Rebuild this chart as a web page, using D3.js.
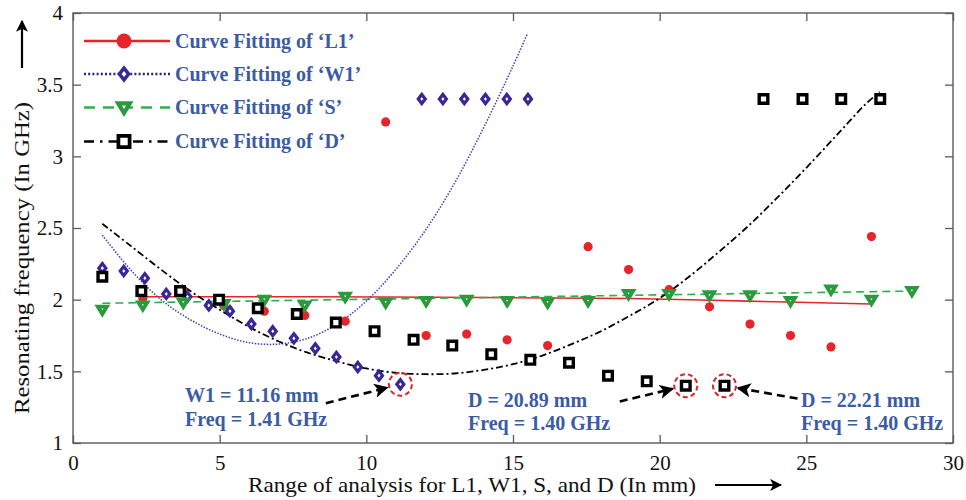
<!DOCTYPE html>
<html>
<head>
<meta charset="utf-8">
<script src="https://cdn.jsdelivr.net/npm/d3@7"></script>
<style>
  html, body { margin: 0; padding: 0; background: #fff; }
  svg { display: block; }
</style>
</head>
<body>
<div id="chart"></div>
<script>
// Resonating frequency vs parameter sweep (L1, W1, S, D) with curve fits.
// Values.

const X_TICKS = [0, 5, 10, 15, 20, 25, 30];
const Y_TICKS = [1, 1.5, 2, 2.5, 3, 3.5, 4];

const L1_X = [2.38, 3.76, 5.14, 6.52, 7.90, 9.28, 10.66, 12.04, 13.42, 14.80, 16.18, 17.56, 18.94, 20.32, 21.70, 23.08, 24.46, 25.84, 27.22];
const L1_Y = [2.01, 2.06, 1.96, 1.92, 1.89, 1.85, 3.24, 1.75, 1.76, 1.72, 1.68, 2.37, 2.21, 2.07, 1.95, 1.83, 1.75, 1.67, 2.44];

const W1_X = [1.00, 1.73, 2.45, 3.18, 3.90, 4.63, 5.35, 6.08, 6.81, 7.53, 8.26, 8.98, 9.71, 10.43, 11.16, 11.89, 12.61, 13.34, 14.06, 14.79, 15.51];
const W1_Y = [2.22, 2.20, 2.15, 2.04, 2.02, 1.96, 1.92, 1.83, 1.78, 1.73, 1.66, 1.60, 1.53, 1.47, 1.41, 3.40, 3.40, 3.40, 3.40, 3.40, 3.40];

const S_X = [1.00, 2.38, 3.76, 5.14, 6.52, 7.90, 9.28, 10.66, 12.04, 13.42, 14.80, 16.18, 17.56, 18.94, 20.32, 21.70, 23.08, 24.46, 25.84, 27.22, 28.60];
const S_Y = [1.93, 1.96, 1.98, 1.97, 2.00, 1.96, 2.02, 1.98, 1.99, 2.00, 1.99, 1.98, 1.99, 2.04, 2.04, 2.03, 2.03, 1.99, 2.07, 2.00, 2.06];

const D_X = [1.00, 2.33, 3.65, 4.98, 6.30, 7.63, 8.96, 10.28, 11.61, 12.93, 14.26, 15.59, 16.91, 18.24, 19.56, 20.89, 22.21, 23.54, 24.87, 26.19, 27.52];
const D_Y = [2.16, 2.06, 2.06, 2.00, 1.94, 1.90, 1.84, 1.78, 1.72, 1.68, 1.62, 1.58, 1.56, 1.47, 1.43, 1.40, 1.40, 3.40, 3.40, 3.40, 3.40];

// fitted curves
const L1_FIT_X = [2.38, 8, 14, 19, 23, 27.22];
const L1_FIT_Y = [2.02, 2.02, 2.015, 2.008, 1.99, 1.97];

const W1_FIT_X = [1, 2, 3, 4, 5, 6, 7, 8, 9, 10, 11, 12, 13, 14, 15, 15.5];
const W1_FIT_Y = [2.45, 2.20, 2.00, 1.86, 1.76, 1.70, 1.69, 1.73, 1.83, 1.99, 2.21, 2.48, 2.81, 3.20, 3.63, 3.86];

const S_FIT_X = [1, 28.6];
const S_FIT_Y = [1.975, 2.06];

const D_FIT_X = [1, 2, 3, 4, 5, 6, 7, 8, 9, 10, 11, 12, 13, 14, 15, 16, 17, 18, 19, 20, 21, 22, 23, 24, 25, 26, 27, 27.5];
const D_FIT_Y = [2.53, 2.37, 2.21, 2.06, 1.93, 1.81, 1.71, 1.63, 1.57, 1.52, 1.49, 1.48, 1.485, 1.51, 1.55, 1.61, 1.69, 1.78, 1.89, 2.01, 2.16, 2.33, 2.51, 2.71, 2.92, 3.14, 3.36, 3.45];

const LEGEND_LABELS = ["Curve Fitting of \u2018L1\u2019", "Curve Fitting of \u2018W1\u2019", "Curve Fitting of \u2018S\u2019", "Curve Fitting of \u2018D\u2019"];

const ResonanceChart = (() => {

  const W = 966, H = 500;
  const SERIF = "'Liberation Serif', 'Times New Roman', serif";
  const NOTE_BLUE = "#3b5ba3";

  const COL = {
    red:    "#e8242b",
    purple: "#3a2796",
    dotted: "#4040b4",
    green:  "#2a9a3c",
    gline:  "#2fae4c",
    black:  "#000",
  };

  const zip = (xs, ys) => xs.map((x, i) => [x, ys[i]]);

  function markerPath(kind, s) {
    if (kind === "diamond") return `M0,${-s * 1.3}L${s},0L0,${s * 1.3}L${-s},0Z`;
    if (kind === "square")  return `M${-s},${-s}H${s}V${s}H${-s}Z`;
    if (kind === "tri")     return `M${-s * 1.15},${-s * 0.8}H${s * 1.15}L0,${s * 1.1}Z`;
    return null;
  }

  function drawMarker(g, kind, cx, cy, big) {
    const k = big ? 1.3 : 1;
    if (kind === "circle") {
      g.append("circle")
        .attr("cx", cx).attr("cy", cy)
        .attr("r", 4.6 * k)
        .attr("fill", COL.red);
      return;
    }
    const spec = {
      diamond: { s: 3.5, stroke: COL.purple, w: 3.2 },
      square:  { s: 4.3, stroke: COL.black,  w: 3.4 },
      tri:     { s: 3.9, stroke: COL.green,  w: 3.8 },
    }[kind];
    g.append("path")
      .attr("d", markerPath(kind, spec.s * k))
      .attr("transform", `translate(${cx},${cy})`)
      .attr("fill", "#fff")
      .attr("stroke", spec.stroke)
      .attr("stroke-width", spec.w * (big ? 1.1 : 1))
      .attr("stroke-linejoin", "miter");
  }

  function init() {
    const svg = d3.select("#chart").append("svg")
      .attr("width", W)
      .attr("height", H)
      .attr("viewBox", `0 0 ${W} ${H}`);

    const x = d3.scaleLinear().domain([0, 30]).range([73, 953]);
    const y = d3.scaleLinear().domain([1, 4]).range([443, 13]);

    const defs = svg.append("defs");
    defs.append("marker")
      .attr("id", "head")
      .attr("viewBox", "0 0 10 10")
      .attr("refX", 9).attr("refY", 5)
      .attr("markerWidth", 5.5).attr("markerHeight", 5.5)
      .attr("markerUnits", "strokeWidth")
      .attr("orient", "auto")
      .append("path")
      .attr("d", "M0,0L10,5L0,10L2.5,5Z")
      .attr("fill", "#000");

    // ---- frame and ticks
    const axisCol = "#5a5a5a";
    svg.append("rect")
      .attr("x", x(0)).attr("y", y(4))
      .attr("width", x(30) - x(0)).attr("height", y(1) - y(4))
      .attr("fill", "none")
      .attr("stroke", axisCol)
      .attr("stroke-width", 1.4);

    const axB = svg.append("g").attr("transform", `translate(0,${y(1)})`)
      .call(d3.axisBottom(x).tickValues(X_TICKS).tickSizeInner(-8).tickSizeOuter(0).tickPadding(13));
    const axT = svg.append("g").attr("transform", `translate(0,${y(4)})`)
      .call(d3.axisTop(x).tickValues(X_TICKS).tickSizeInner(-8).tickSizeOuter(0).tickFormat(""));
    const axL = svg.append("g").attr("transform", `translate(${x(0)},0)`)
      .call(d3.axisLeft(y).tickValues(Y_TICKS).tickSizeInner(-8).tickSizeOuter(0).tickPadding(10).tickFormat(d3.format("")));
    const axR = svg.append("g").attr("transform", `translate(${x(30)},0)`)
      .call(d3.axisRight(y).tickValues(Y_TICKS).tickSizeInner(-8).tickSizeOuter(0).tickFormat(""));

    [axB, axT, axL, axR].forEach(a => {
      a.select(".domain").remove();
      a.selectAll(".tick line").attr("stroke", axisCol).attr("stroke-width", 1.3);
      a.selectAll(".tick text")
        .attr("fill", "#111")
        .attr("font-family", SERIF)
        .attr("font-size", "21px");
    });
    axB.selectAll(".tick text").attr("dy", "0.68em");

    // ---- axis titles
    svg.append("text")
      .attr("x", 472).attr("y", 492)
      .attr("text-anchor", "middle")
      .attr("font-family", SERIF)
      .attr("font-size", "21px")
      .attr("fill", "#111")
      .attr("textLength", 448)
      .attr("lengthAdjust", "spacingAndGlyphs")
      .text("Range of analysis for L1, W1, S, and D (In mm)");

    svg.append("line")
      .attr("x1", 715).attr("y1", 485).attr("x2", 781).attr("y2", 485)
      .attr("stroke", "#000").attr("stroke-width", 2.2)
      .attr("marker-end", "url(#head)");

    svg.append("text")
      .attr("transform", "translate(29,258) rotate(-90)")
      .attr("text-anchor", "middle")
      .attr("font-family", SERIF)
      .attr("font-size", "21px")
      .attr("fill", "#111")
      .attr("textLength", 312)
      .attr("lengthAdjust", "spacingAndGlyphs")
      .text("Resonating frequency (In GHz)");

    svg.append("line")
      .attr("x1", 22).attr("y1", 68).attr("x2", 22).attr("y2", 21)
      .attr("stroke", "#000").attr("stroke-width", 2.2)
      .attr("marker-end", "url(#head)");

    // ---- fitted curves
    const line = d3.line()
      .x(d => x(d[0]))
      .y(d => y(d[1]))
      .curve(d3.curveCatmullRom.alpha(0.5));

    const plot = svg.append("g");

    plot.append("path").datum(zip(L1_FIT_X, L1_FIT_Y))
      .attr("d", line).attr("fill", "none")
      .attr("stroke", COL.red).attr("stroke-width", 1.6);

    plot.append("path").datum(zip(S_FIT_X, S_FIT_Y))
      .attr("d", line).attr("fill", "none")
      .attr("stroke", COL.gline).attr("stroke-width", 1.6)
      .attr("stroke-dasharray", "8,5");

    plot.append("path").datum(zip(W1_FIT_X, W1_FIT_Y))
      .attr("d", line).attr("fill", "none")
      .attr("stroke", COL.dotted).attr("stroke-width", 1.5)
      .attr("stroke-dasharray", "1.5,1.5");

    plot.append("path").datum(zip(D_FIT_X, D_FIT_Y))
      .attr("d", line).attr("fill", "none")
      .attr("stroke", COL.black).attr("stroke-width", 1.8)
      .attr("stroke-dasharray", "7,3,2,3");

    // ---- data markers
    const marks = svg.append("g");
    zip(L1_X, L1_Y).forEach(d => drawMarker(marks, "circle", x(d[0]), y(d[1])));
    zip(W1_X, W1_Y).forEach(d => drawMarker(marks, "diamond", x(d[0]), y(d[1])));
    zip(S_X, S_Y).forEach(d => drawMarker(marks, "tri", x(d[0]), y(d[1])));
    zip(D_X, D_Y).forEach(d => drawMarker(marks, "square", x(d[0]), y(d[1])));

    // ---- legend
    const legend = svg.append("g");
    const rows = [
      { kind: "circle",  stroke: COL.red,    dash: null,          w: 2.6 },
      { kind: "diamond", stroke: "#1d2a78",  dash: "2,2.2",       w: 2.6 },
      { kind: "tri",     stroke: COL.gline,  dash: "11,8",        w: 2.6 },
      { kind: "square",  stroke: COL.black,  dash: "10,6,2.5,6",  w: 2.6 },
    ];
    const rowY = [41, 74, 107.5, 141.5];
    rows.forEach((r, i) => {
      const ly = rowY[i];
      legend.append("line")
        .attr("x1", 84).attr("x2", 170).attr("y1", ly).attr("y2", ly)
        .attr("stroke", r.stroke).attr("stroke-width", r.w)
        .attr("stroke-dasharray", r.dash);
      if (r.kind === "circle") {
        legend.append("circle").attr("cx", 124).attr("cy", ly).attr("r", 7.5).attr("fill", COL.red);
      } else {
        drawMarker(legend, r.kind, 124, ly, true);
      }
      legend.append("text")
        .attr("x", 175).attr("y", ly)
        .attr("dy", "0.34em")
        .attr("font-family", SERIF)
        .attr("font-weight", "bold")
        .attr("font-size", "20px")
        .attr("fill", NOTE_BLUE)
        .text(LEGEND_LABELS[i]);
    });

    // ---- annotations: highlighted minima
    const notes = svg.append("g");
    const hits = [
      { px: 11.16, pv: 1.41, from: [8.62, 1.277], text: ["W1 = 11.16 mm", "Freq = 1.41 GHz"], tx: 185, ty: [402, 426] },
      { px: 20.89, pv: 1.40, from: [18.64, 1.29], text: ["D = 20.89 mm", "Freq = 1.40 GHz"],  tx: 468, ty: [407, 430] },
      { px: 22.21, pv: 1.40, from: [24.70, 1.31], text: ["D = 22.21 mm", "Freq = 1.40 GHz"],  tx: 801, ty: [407, 430] },
    ];
    const R = 11.5;
    hits.forEach(h => {
      const cx = x(h.px), cy = y(h.pv);
      notes.append("circle")
        .attr("cx", cx).attr("cy", cy).attr("r", R)
        .attr("fill", "none")
        .attr("stroke", "#d7262b").attr("stroke-width", 2)
        .attr("stroke-dasharray", "5,3");

      const sx = x(h.from[0]), sy = y(h.from[1]);
      const dx = cx - sx, dy = cy - sy, len = Math.hypot(dx, dy);
      const ex = cx - dx / len * (R + 2), ey = cy - dy / len * (R + 2);
      notes.append("line")
        .attr("x1", sx).attr("y1", sy).attr("x2", ex).attr("y2", ey)
        .attr("stroke", "#000").attr("stroke-width", 2.6)
        .attr("stroke-dasharray", "8,5")
        .attr("marker-end", "url(#head)");

      h.text.forEach((t, j) => {
        notes.append("text")
          .attr("x", h.tx).attr("y", h.ty[j])
          .attr("font-family", SERIF)
          .attr("font-weight", "bold")
          .attr("font-size", "20px")
          .attr("fill", NOTE_BLUE)
          .text(t);
      });
    });
  }

  return { init };
})();

ResonanceChart.init();
</script>
</body>
</html>
